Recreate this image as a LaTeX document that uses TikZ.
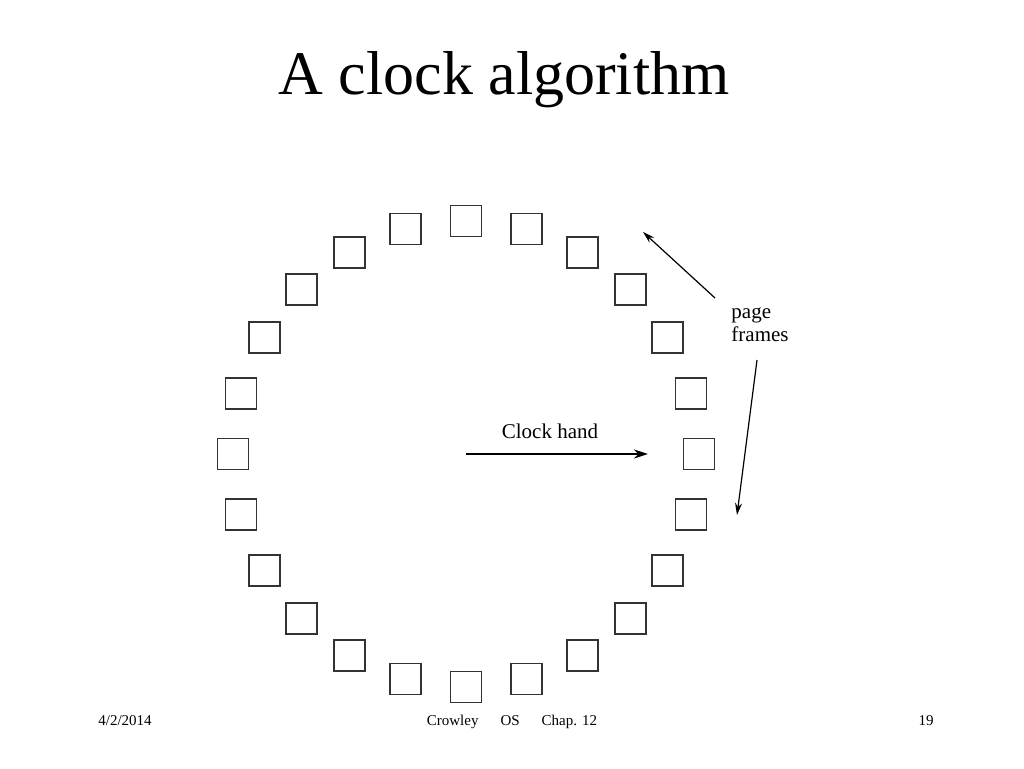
\documentclass[tikz,border=0pt]{standalone}
\usepackage{fontspec}
\setmainfont{Liberation Serif}
\usetikzlibrary{arrows.meta}
\begin{document}
\begin{tikzpicture}[x=1pt,y=-1pt,
  frame/.style={draw=black!80,line width=1.8pt,minimum size=31pt,inner sep=0pt},
  lbl/.style={font=\fontsize{21}{23}\selectfont,align=center},
  foot/.style={font=\fontsize{15}{17}\selectfont}]
\useasboundingbox (0,0) rectangle (1024,768);
\node[font=\fontsize{62}{64}\selectfont] (title) at (504,80) {A clock algorithm};
\foreach \i in {0,...,23}{
  \node[frame] (f\i) at ({466+233*cos(90-15*\i)},{454-233*sin(90-15*\i)}) {};
}
\node[lbl] (hand) at (550,431) {Clock hand};
\coordinate (hs) at (466,454);
\coordinate (he) at (648,454);
\draw[line width=2.2pt,-{Stealth[length=14pt,width=9pt]}] (hs) -- (he);
\node[lbl,align=left,inner sep=0pt] (pf) at (760,325) {page\\frames};
\coordinate (p1) at (643,232);
\coordinate (p2) at (737,515);
\draw[line width=1.2pt,-{Stealth[length=12pt,width=7pt]}] (715,298) -- (p1);
\draw[line width=1.2pt,-{Stealth[length=12pt,width=7pt]}] (757,360) -- (p2);
\node[foot,anchor=base] (d) at (125,725) {4/2/2014};
\node[foot,anchor=base] (m) at (512,725) {Crowley\hspace{22pt}OS\hspace{22pt}Chap. 12};
\node[foot,anchor=base] (n) at (926,725) {19};
\end{tikzpicture}
\end{document}
